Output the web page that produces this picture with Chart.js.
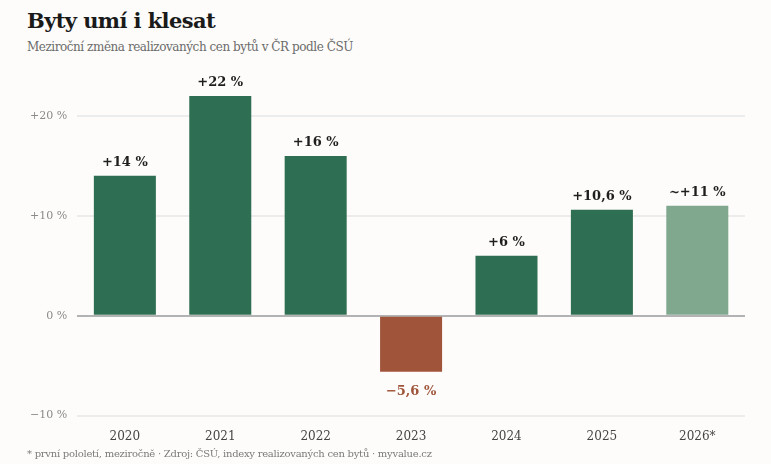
<!DOCTYPE html>
<html lang="cs">
<head>
<meta charset="utf-8">
<script src="https://cdn.jsdelivr.net/npm/chart.js@4"></script>
<style>
  html, body { margin: 0; padding: 0; background: #fdfcfa; }
  body { width: 771px; height: 464px; position: relative; overflow: hidden; font-family: "DejaVu Serif", serif; }
  #title { position: absolute; left: 27px; top: 8px; font-size: 21px; font-weight: bold; color: #1a1a1a; letter-spacing: -0.6px; }
  #subtitle { position: absolute; left: 27px; top: 40px; font-size: 12px; color: #6b6b6b; letter-spacing: -0.45px; }
  #note { position: absolute; left: 27px; top: 448px; font-size: 10px; color: #7a7a7a; letter-spacing: -0.25px; }
  #wrap { position: absolute; left: 0; top: 0; width: 771px; height: 464px; }
</style>
</head>
<body>
<div id="title">Byty umí i klesat</div>
<div id="subtitle">Meziroční změna realizovaných cen bytů v ČR podle ČSÚ</div>
<div id="wrap"><canvas id="chart"></canvas></div>
<div id="note">* první pololetí, meziročně · Zdroj: ČSÚ, indexy realizovaných cen bytů · myvalue.cz</div>
<script>
// Meziroční změna cen bytů (%)
const years = ["2020", "2021", "2022", "2023", "2024", "2025", "2026*"];
const changes = [14, 22, 16, -5.6, 6, 10.6, 11];
const valueLabels = ["+14 %", "+22 %", "+16 %", "\u22125,6 %", "+6 %", "+10,6 %", "~+11 %"];
const yTicks = [-10, 0, 10, 20];
const tickLabels = ["\u221210 %", "0 %", "+10 %", "+20 %"];

const GREEN = "#2e6e52";
const GREEN_LIGHT = "#7fa88f";
const BROWN = "#a0553b";

const barColors = changes.map((v, i) => {
    if (v < 0) return BROWN;
    if (i === years.length - 1) return GREEN_LIGHT;
    return GREEN;
});

// Draw the value above (or below) each bar
const valueLabelPlugin = {
    id: "valueLabels",
    afterDatasetsDraw(chart) {
        const ctx = chart.ctx;
        const meta = chart.getDatasetMeta(0);
        ctx.save();
        ctx.font = "bold 13px 'DejaVu Serif', serif";
        ctx.textAlign = "center";
        meta.data.forEach((bar, i) => {
            const v = changes[i];
            if (v < 0) {
                ctx.fillStyle = BROWN;
                ctx.textBaseline = "top";
                ctx.fillText(valueLabels[i], bar.x, bar.y + 13);
            } else {
                ctx.fillStyle = "#1e1e1e";
                ctx.textBaseline = "bottom";
                ctx.fillText(valueLabels[i], bar.x, bar.y - 7);
            }
        });
        ctx.restore();
    },
};

const ctx = document.getElementById("chart").getContext("2d");
new Chart(ctx, {
    type: "bar",
    data: {
        labels: years,
        datasets: [
            {
                data: changes,
                backgroundColor: barColors,
                borderWidth: 0,
                barPercentage: 0.65,
                categoryPercentage: 1.0,
            },
        ],
    },
    options: {
        responsive: true,
        maintainAspectRatio: false,
        animation: false,
        layout: {
            padding: { left: 20, right: 26, top: 66, bottom: 14 },
        },
        plugins: {
            legend: { display: false },
            tooltip: { enabled: false },
        },
        scales: {
            x: {
                grid: { display: false },
                border: { display: false },
                ticks: {
                    color: "#444",
                    font: { family: "'DejaVu Serif', serif", size: 12 },
                    padding: 6,
                },
            },
            y: {
                min: -10,
                max: 25,
                afterBuildTicks(axis) {
                    axis.ticks = yTicks.map((v) => ({ value: v }));
                },
                border: { display: false },
                grid: {
                    drawTicks: false,
                    color: (c) => (c.tick && c.tick.value === 0 ? "#b3b3b3" : "#ececec"),
                    lineWidth: 2,
                },
                ticks: {
                    color: "#8a8a8a",
                    padding: 10,
                    font: { family: "'DejaVu Serif', serif", size: 11 },
                    callback: (value) => tickLabels[yTicks.indexOf(value)],
                },
            },
        },
    },
    plugins: [valueLabelPlugin],
});
</script>
</body>
</html>
